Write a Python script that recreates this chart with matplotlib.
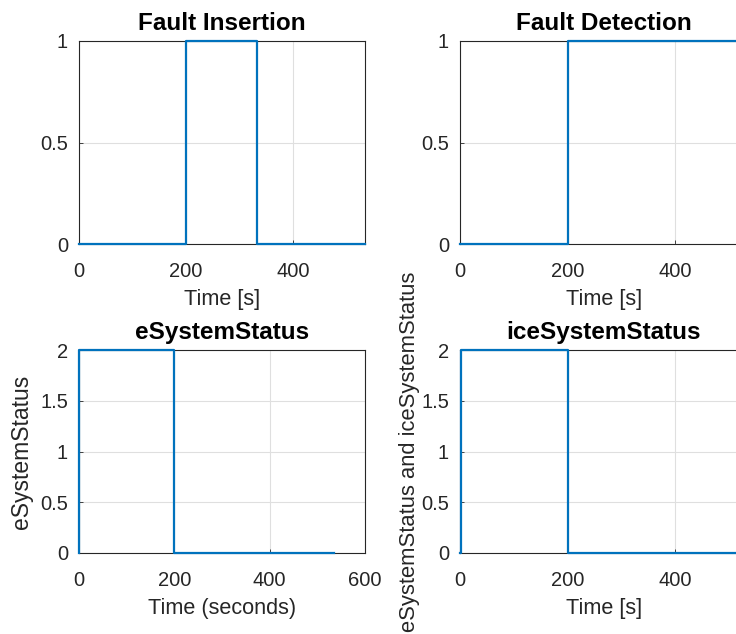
import matplotlib
matplotlib.use("Agg")
import matplotlib.pyplot as plt

plt.rcParams['font.family'] = ['Liberation Sans', 'DejaVu Sans']

# Step signals (breakpoint times in seconds, value held until next breakpoint)
insertion_time = [0, 200, 333, 535]
insertion_value = [0, 1, 0, 0]

detection_time = [0, 200, 535]
detection_value = [0, 1, 1]

esys_time = [0, 1, 200, 535]
esys_value = [0, 2, 0, 0]

icesys_time = [0, 1, 200, 535]
icesys_value = [0, 2, 0, 0]

xticks = [0, 200, 400, 600]
yticks_binary = [0, 0.5, 1]
yticks_status = [0, 0.5, 1, 1.5, 2]

W, H = 736, 634
fig = plt.figure(figsize=(W / 100, H / 100), dpi=100)

LINE = '#0072BD'
AX = '#262626'
GRID = '#dfdfdf'


def make_axes(left, top, width, height):
    return fig.add_axes([left / W, (H - top - height) / H, width / W, height / H])


def style(ax, xmax, yticks, title, xlabel, ylabel=None, ylabel_x=None,
          ylabel_size=16.5):
    ax.set_xlim(0, xmax)
    ax.set_ylim(yticks[0], yticks[-1])
    ax.set_xticks([t for t in xticks if t <= xmax])
    ax.set_yticks(yticks)
    ax.set_yticklabels([f"{v:g}" for v in yticks])
    ax.grid(True, color=GRID, linewidth=0.8)
    ax.set_axisbelow(True)
    for s in ax.spines.values():
        s.set_color(AX)
        s.set_linewidth(0.8)
    ax.tick_params(direction='in', length=3, width=0.6, colors=AX,
                   labelsize=14.5, pad=8)
    ax.tick_params(axis='x', pad=13)
    ax.set_title(title, fontsize=17.5, fontweight='bold', color='black', pad=8)
    ax.set_xlabel(xlabel, fontsize=15.6, color=AX, labelpad=6)
    if ylabel:
        ax.set_ylabel(ylabel, fontsize=ylabel_size, color=AX)
        ax.yaxis.set_label_coords(ylabel_x, 0.5)


ax1 = make_axes(79, 41, 286, 203)
ax1.plot(insertion_time, insertion_value, drawstyle='steps-post', color=LINE,
         lw=1.6, clip_on=False, zorder=3)
style(ax1, 535, yticks_binary, 'Fault Insertion', 'Time [s]')

ax2 = make_axes(460, 41, 288, 203)
ax2.plot(detection_time, detection_value, drawstyle='steps-post', color=LINE,
         lw=1.6, clip_on=False, zorder=3)
style(ax2, 535, yticks_binary, 'Fault Detection', 'Time [s]')

ax3 = make_axes(79, 350, 286, 203)
ax3.plot(esys_time, esys_value, drawstyle='steps-post', color=LINE,
         lw=1.6, clip_on=False, zorder=3)
style(ax3, 600, yticks_status, 'eSystemStatus', 'Time (seconds)', 'eSystemStatus',
      ylabel_x=-0.161)

ax4 = make_axes(460, 350, 288, 203)
ax4.plot(icesys_time, icesys_value, drawstyle='steps-post', color=LINE,
         lw=1.6, clip_on=False, zorder=3)
style(ax4, 535, yticks_status, 'iceSystemStatus', 'Time [s]',
      'eSystemStatus and iceSystemStatus', ylabel_x=-0.139, ylabel_size=15.8)

fig.savefig('out.png', dpi=100)
